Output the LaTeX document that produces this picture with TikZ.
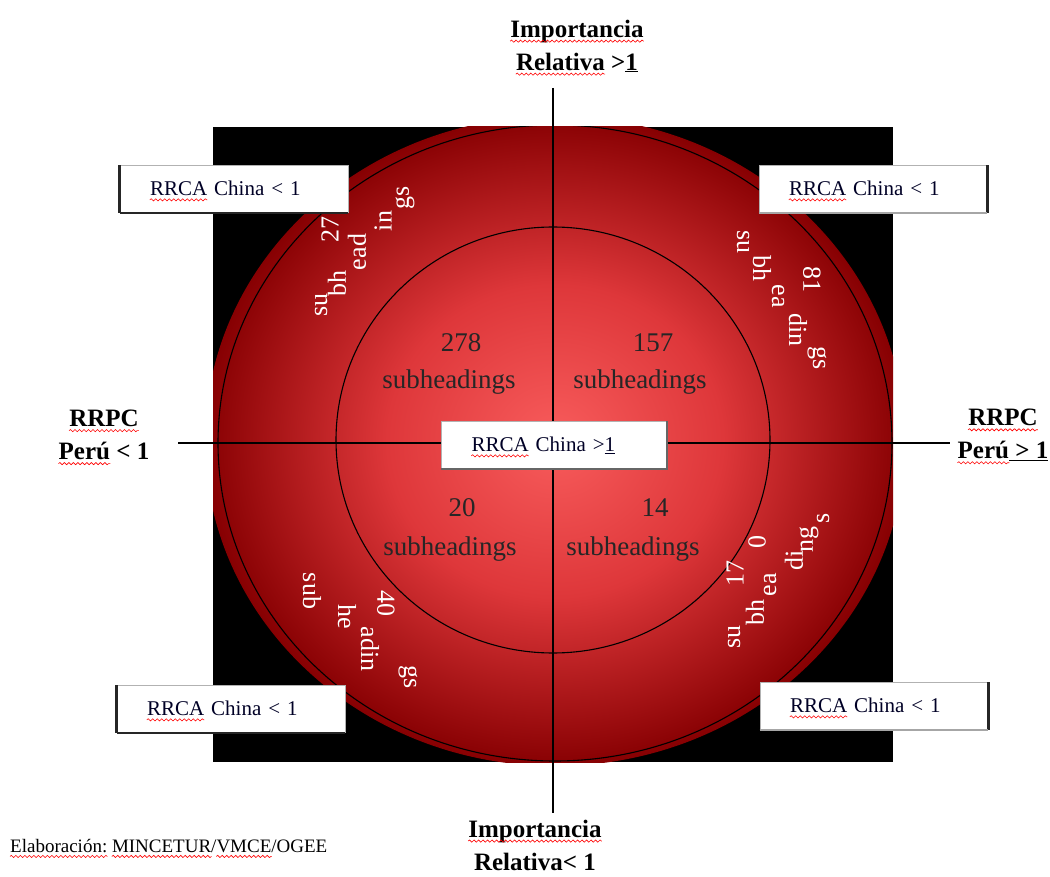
\documentclass[tikz,border=0pt]{standalone}
\usepackage{fontspec}
\setmainfont{Liberation Serif}
\usetikzlibrary{decorations.pathmorphing}
% red spell-check squiggle under a word
\newcommand\spell[1]{\tikz[baseline=(w.base)]{\node[inner sep=0pt] (w) {#1};
  \draw[overlay, red, line width=0.6pt, decorate, decoration={snake, amplitude=1.1pt, segment length=4.5pt}]
    ([yshift=-4pt]w.base west) -- ([yshift=-4pt]w.base east);}}
\definecolor{glowA}{RGB}{248,92,92}
\definecolor{glowB}{RGB}{222,55,58}
\definecolor{glowC}{RGB}{135,0,2}
\pgfdeclareradialshading{redglow}{\pgfpointorigin}{color(0bp)=(glowA); color(12bp)=(glowB); color(25bp)=(glowC); color(50bp)=(glowC)}

\begin{document}
\begin{tikzpicture}[x=1pt,y=-1pt,
    axis/.style={line width=1.2pt},
    ring/.style={line width=1.1pt},
    rrca/.style={draw=gray!60, fill=white, line width=0.8pt, text width=168pt,
                 inner xsep=30pt, inner ysep=0pt, minimum height=47pt, align=left,
                 text=black!85!blue, font=\fontsize{21}{24}\selectfont},
    boxedge/.style={line width=2.4pt, black!85},
    sidelabel/.style={align=center, font=\bfseries\fontsize{25}{33}\selectfont},
    count/.style={text=black!85, font=\fontsize{27}{30}\selectfont},
    bent/.style={text=white, inner sep=0pt, font=\fontsize{26}{26}\selectfont}]

  \useasboundingbox (0,0) rectangle (1050,877);

  % black square with the red disc
  \fill[black] (213,127) rectangle (893,762);
  \begin{scope}
    \clip (213,127) rectangle (893,762);
    \shade[shading=redglow] (555,441) ellipse (350pt and 325pt);
    \draw[ring] (555,443) ellipse (337pt and 318pt);
  \end{scope}
  \draw[ring] (553,440) ellipse (217pt and 213pt);

  % axes
  \coordinate (N) at (553,88);
  \coordinate (S) at (553,813);
  \coordinate (W) at (178,443);
  \coordinate (E) at (950,443);
  \draw[axis] (N) -- (S);
  \draw[axis] (W) -- (E);

  % quadrant counts
  \node[count] (q1n) at (461,343) {278};
  \node[count] (q1w) at (449,382) {subheadings};
  \node[count] (q2n) at (653,343) {157};
  \node[count] (q2w) at (640,382) {subheadings};
  \node[count] (q3n) at (462,508) {20};
  \node[count] (q3w) at (450,549) {subheadings};
  \node[count] (q4n) at (655,508) {14};
  \node[count] (q4w) at (633,549) {subheadings};

  % broken curved texts
  \node[bent, rotate=90] (a1) at (321,305) {su};
  \node[bent, rotate=90] (a2) at (337,284) {bh};
  \node[bent, rotate=90] (a3) at (330,230) {27};
  \node[bent, rotate=90] (a4) at (357,252) {ead};
  \node[bent, rotate=90] (a5) at (383,221) {in};
  \node[bent, rotate=90] (a6) at (405,198) {gs};

  \node[bent, rotate=-90] (b1) at (743,242) {su};
  \node[bent, rotate=-90] (b2) at (762,269) {bh};
  \node[bent, rotate=-90] (b3) at (778,296) {ea};
  \node[bent, rotate=-90] (b4) at (812,280) {81};
  \node[bent, rotate=-90] (b5) at (798,330) {din};
  \node[bent, rotate=-90] (b6) at (817,358) {gs};

  \node[bent, rotate=-90] (c1) at (312,591) {sub};
  \node[bent, rotate=-90] (c2) at (347,617) {he};
  \node[bent, rotate=-90] (c3) at (386,603) {40};
  \node[bent, rotate=-90] (c4) at (370,649) {adin};
  \node[bent, rotate=-90] (c5) at (408,677) {gs};

  \node[bent, rotate=90] (d1) at (734,637) {su};
  \node[bent, rotate=90] (d2) at (755,612) {bh};
  \node[bent, rotate=90] (d3) at (735,573) {17};
  \node[bent, rotate=90] (d4) at (757,542) {0};
  \node[bent, rotate=90] (d5) at (770,585) {ea};
  \node[bent, rotate=90] (d6) at (794,560) {di};
  \node[bent, rotate=90] (d7) at (809,539) {ng};
  \node[bent, rotate=90] (d8) at (823,518) {s};

  % RRCA boxes
  \node[rrca] (tlbox) at (234,189) {\spell{RRCA} China < 1};
  \node[rrca] (trbox) at (873,189) {\spell{RRCA} China < 1};
  \node[rrca] (blbox) at (231,709) {\spell{RRCA} China < 1};
  \node[rrca] (brbox) at (874,706) {\spell{RRCA} China < 1};
  \node[rrca, text width=165pt] (cbox) at (554,445) {\spell{RRCA} China >\underline{1}};

  \draw[boxedge] (tlbox.north west) -- (tlbox.south west);
  \draw[boxedge, line width=1.6pt] (tlbox.south west) -- (tlbox.south east);
  \draw[boxedge] (blbox.north west) -- (blbox.south west);
  \draw[boxedge, line width=1.6pt] (blbox.south west) -- (blbox.south east);
  \draw[boxedge] (trbox.north east) -- (trbox.south east);
  \draw[boxedge, gray!70, line width=1.6pt] (trbox.south west) -- (trbox.south east);
  \draw[boxedge] (brbox.north east) -- (brbox.south east);
  \draw[boxedge, gray!70, line width=1.6pt] (brbox.south west) -- (brbox.south east);
  \draw[boxedge, black!60, line width=1.8pt] (cbox.north east) -- (cbox.south east) -- (cbox.south west);

  % axis labels
  \node[sidelabel] (toplab) at (577,46) {\spell{Importancia}\\\spell{Relativa} >\underline{1}};
  \node[sidelabel] (leftlab) at (104,435) {\spell{RRPC}\\\spell{Perú} < 1};
  \node[sidelabel] (rightlab) at (1003,435) {\spell{RRPC}\\\spell{Perú}\underline{ > 1}};
  \node[sidelabel] (botlab) at (535,845) {\spell{Importancia}\\Relativa< 1};

  \node[anchor=west, inner sep=0pt, font=\fontsize{19}{22}\selectfont] (credit) at (10,846)
    {\spell{Elaboración:} \spell{MINCETUR}/\spell{VMCE}/OGEE};
\end{tikzpicture}
\end{document}
